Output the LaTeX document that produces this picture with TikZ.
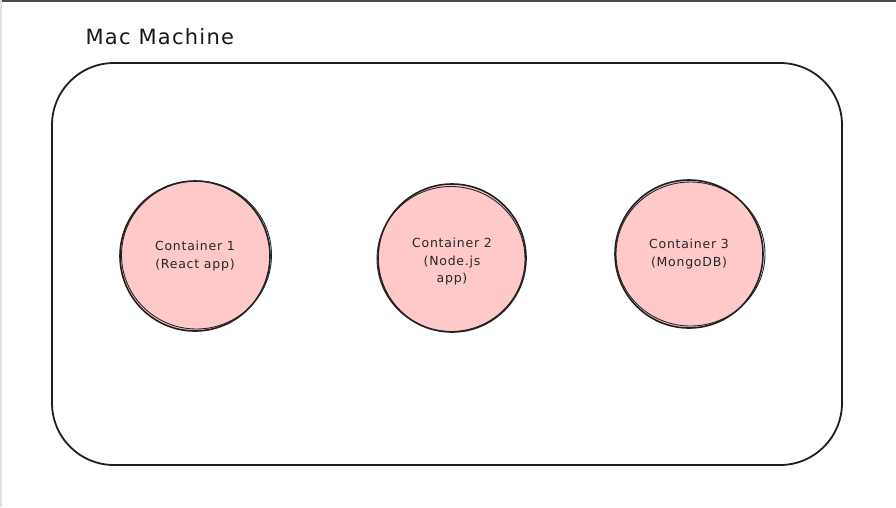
\documentclass[tikz,border=0pt]{standalone}
\usepackage{fontspec}
\setmainfont{DejaVu Sans}
\newfontfamily\widefont[LetterSpace=6]{DejaVu Sans}
\begin{document}
\begin{tikzpicture}[x=1pt,y=-1pt,
  frame/.style={draw=black!88, line width=1.8pt, rounded corners=62pt},
  container/.style={circle, draw=black!88, line width=1.6pt, fill=pinkfill, minimum size=150pt, inner sep=0pt, align=center, font=\widefont\fontsize{12.5}{17.5}\selectfont, text=black!85},
  sketch/.style={draw=black!85, line width=0.9pt},
  title/.style={anchor=west, font=\widefont\fontsize{21}{24}\selectfont, text=black!90}]
\definecolor{pinkfill}{HTML}{FFC9C9}
\useasboundingbox (0,0) rectangle (896,507);
\fill[white] (0,0) rectangle (896,507);
\draw[black!70, line width=1.5pt] (0,0.75) -- (896,0.75);
\draw[black!12, line width=1.5pt] (0.75,0) -- (0.75,507);
\node[title] (t) at (82,37) {Mac Machine};
\draw[frame] (52,63) rectangle (842,465);
\node[container] (c1) at (195,256) {Container 1\\(React app)};
\draw[sketch] ([xshift=1.5pt,yshift=1pt]c1.center) ellipse [x radius=75pt, y radius=74pt];
\node[container, minimum size=148pt] (c2) at (452,258) {\rule{0pt}{17.5pt}Container 2\\(Node.js\\app)};
\draw[sketch] ([xshift=-1pt,yshift=-1pt]c2.center) ellipse [x radius=74pt, y radius=72.5pt];
\node[container, minimum size=148pt] (c3) at (689,254) {Container 3\\(MongoDB)};
\draw[sketch] ([xshift=1.5pt,yshift=0pt]c3.center) ellipse [x radius=74.5pt, y radius=72pt];
\end{tikzpicture}
\end{document}
